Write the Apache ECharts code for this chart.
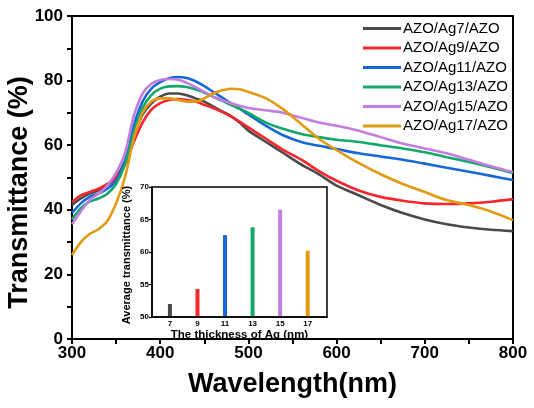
<!DOCTYPE html>
<html>
<head>
<meta charset="utf-8">
<script src="https://cdn.jsdelivr.net/npm/echarts@6/dist/echarts.min.js"></script>
<style>
  html, body { margin: 0; padding: 0; background: #fff; }
  #chart { width: 534px; height: 408px; }
</style>
</head>
<body>
<div id="chart"></div>
<script>
// wavelength (nm)
var wavelength = [300, 310, 320, 330, 340, 350, 360, 370, 380, 390, 400, 410, 420, 430, 440, 450, 460, 470, 480, 490, 500,
    520, 540, 560, 580, 600, 625, 650, 675, 700, 725, 750, 775, 800];

var ag7  = [41.5, 43.5, 45, 46, 47.5, 50, 55, 63, 69.5, 73, 75, 76, 76, 75.5, 74.5, 73.5, 72, 70.5, 69, 67, 64.5,
    61, 57.5, 54, 51, 47.5, 44.5, 41.5, 39, 37, 35.5, 34.5, 33.8, 33.4];
var ag9  = [42.4, 44.5, 45.5, 46.5, 48, 50, 54, 61, 67, 71, 73, 74, 74.3, 74, 73.5, 72.5, 71.5, 70.3, 69, 67.3, 65.5,
    62, 58.5, 55.5, 52, 49, 46, 44, 42.8, 42, 41.8, 42, 42.5, 43.3];
var ag11 = [39, 42, 44, 45, 46.5, 49, 55, 66, 73.5, 77.5, 79.5, 80.7, 81.1, 80.8, 79.8, 78.3, 76.5, 74.8, 73, 71.3, 69.5,
    66, 63, 61, 59.8, 58.8, 57.5, 56.5, 55.5, 54.3, 53, 51.8, 50.5, 49.2];
var ag13 = [37, 40.5, 42.5, 43.5, 45, 48, 54, 64, 71.5, 75.5, 77.5, 78.2, 78.3, 78, 77.3, 76.3, 75, 73.8, 72.5, 71.3, 70,
    67, 65, 63.5, 62.5, 61.7, 61, 60, 59, 57.8, 56.3, 54.8, 53.2, 51.4];
var ag15 = [35.5, 39.5, 43, 45, 47.5, 51.5, 57.5, 69, 76, 79, 80.2, 80.5, 80.3, 79.3, 78, 76.5, 75, 74, 73, 72.2, 71.5,
    70.8, 70, 68.5, 67, 66, 64.5, 62.5, 60.5, 59, 57.5, 55.5, 53.5, 51.7];
var ag17 = [26, 30, 32.5, 34, 36.5, 42, 50, 62, 70, 73.5, 74.5, 74.5, 74, 73.5, 73.5, 74.5, 76, 77, 77.5, 77.3, 76.5,
    74.5, 71, 66.5, 62, 58.5, 54.5, 51, 48, 45.5, 43, 41.5, 39.5, 36.8];

var seriesNames = ['AZO/Ag7/AZO', 'AZO/Ag9/AZO', 'AZO/Ag11/AZO', 'AZO/Ag13/AZO', 'AZO/Ag15/AZO', 'AZO/Ag17/AZO'];
var colors = ['#4a4a4a', '#f7262c', '#1668d9', '#15a86c', '#c27ee0', '#e29a10'];

// inset: average transmittance vs Ag thickness
var thickness = [7, 9, 11, 13, 15, 17];
var avgTrans = [52.0, 54.3, 62.6, 63.8, 66.5, 60.2];

var curves = [ag7, ag9, ag11, ag13, ag15, ag17];

var chart = echarts.init(document.getElementById('chart'));

var series = curves.map(function (vals, i) {
    return {
        name: seriesNames[i],
        type: 'line',
        xAxisIndex: 0,
        yAxisIndex: 0,
        showSymbol: false,
        smooth: 0.3,
        lineStyle: {width: 2.6, color: colors[i]},
        itemStyle: {color: colors[i]},
        data: wavelength.map(function (w, j) { return [w, vals[j]]; }),
        z: 3
    };
});

series.push({
    name: 'avg',
    type: 'bar',
    xAxisIndex: 1,
    yAxisIndex: 1,
    barWidth: 4,
    data: thickness.map(function (t, i) {
        return {value: [t, avgTrans[i]], itemStyle: {color: colors[i]}};
    }),
    z: 5
});

var option = {
    backgroundColor: '#fff',
    animation: false,
    textStyle: {fontFamily: 'Liberation Sans, Arial, sans-serif'},
    legend: {
        data: seriesNames,
        orient: 'vertical',
        left: 358,
        top: 16,
        itemWidth: 38,
        itemHeight: 3,
        itemGap: 4.5,
        icon: 'rect',
        textStyle: {fontSize: 15, color: '#000', lineHeight: 15, padding: [0, 0, 0, -3]}
    },
    grid: [
        {left: 72, right: 21, top: 16, bottom: 69, show: true, borderColor: '#000', borderWidth: 2,
            outerBoundsMode: 'none'},
        {left: 152, right: 207, top: 187, bottom: 91, show: true, borderColor: '#000', borderWidth: 1.5,
            backgroundColor: '#fff', z: 4, outerBoundsMode: 'none'}
    ],
    xAxis: [
        {
            type: 'value', gridIndex: 0, min: 300, max: 800, interval: 50,
            name: 'Wavelength(nm)', nameLocation: 'middle', nameGap: 32, nameMoveOverlap: false,
            nameTextStyle: {fontSize: 27, fontWeight: 'bold', color: '#000'},
            axisLine: {lineStyle: {color: '#000', width: 2}},
            axisTick: {length: 5, lineStyle: {width: 2}},
            axisLabel: {fontSize: 17, fontWeight: 'bold', color: '#000', margin: 6,
                formatter: function (v) { return v % 100 === 0 ? v : ''; }},
            splitLine: {show: false}
        },
        {
            type: 'value', gridIndex: 1, min: 5.7, max: 18.4,
            name: 'The thickness of Ag (nm)', nameLocation: 'middle', nameGap: 12,
            nameTextStyle: {fontSize: 11.5, fontWeight: 'bold', color: '#000'},
            axisLine: {lineStyle: {color: '#000', width: 1.5}},
            axisTick: {show: false},
            axisLabel: {fontSize: 8, fontWeight: 'bold', color: '#000', margin: 3,
                customValues: thickness},
            splitLine: {show: false},
            z: 6
        }
    ],
    yAxis: [
        {
            type: 'value', gridIndex: 0, min: 0, max: 100, interval: 10,
            name: 'Transmittance (%)', nameLocation: 'middle', nameGap: 39, nameMoveOverlap: false,
            nameTextStyle: {fontSize: 27, fontWeight: 'bold', color: '#000', padding: [0, 30, 0, 0]},
            axisLine: {show: true, lineStyle: {color: '#000', width: 2}},
            axisTick: {show: true, length: 5, lineStyle: {width: 2}},
            axisLabel: {fontSize: 17, fontWeight: 'bold', color: '#000', margin: 9,
                formatter: function (v) { return v % 20 === 0 ? v : ''; }},
            splitLine: {show: false}
        },
        {
            type: 'value', gridIndex: 1, min: 50, max: 70, interval: 5,
            name: 'Average transmittance (%)', nameLocation: 'middle', nameGap: 20,
            nameTextStyle: {fontSize: 11, fontWeight: 'bold', color: '#000', padding: [0, 6, 0, 0]},
            axisLine: {show: true, lineStyle: {color: '#000', width: 1.5}},
            axisTick: {show: true, length: 3, lineStyle: {width: 1.2}},
            axisLabel: {fontSize: 8, fontWeight: 'bold', color: '#000', margin: 3},
            splitLine: {show: false},
            z: 6
        }
    ],
    series: series
};

chart.setOption(option);
</script>
</body>
</html>
